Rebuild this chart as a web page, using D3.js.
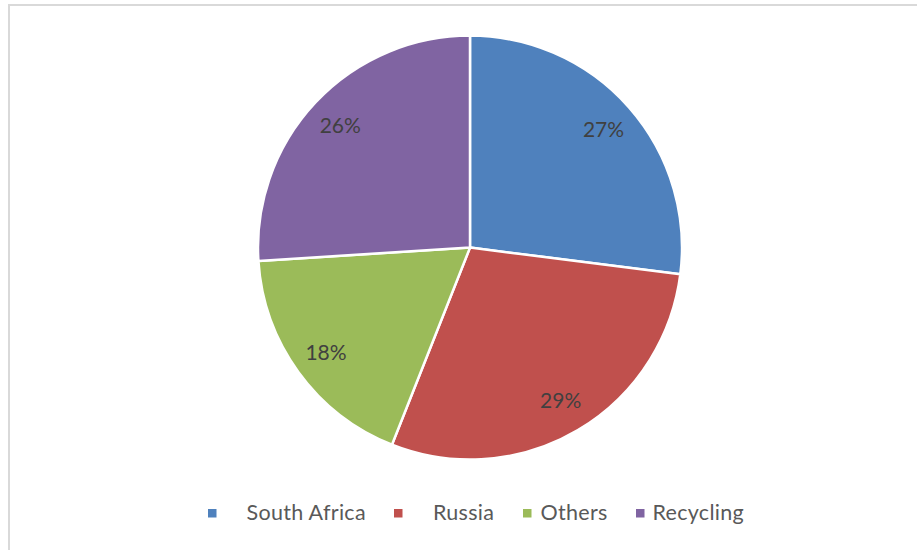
<!DOCTYPE html>
<html><head><meta charset="utf-8">
<script src="https://cdn.jsdelivr.net/npm/d3@7"></script>
<style>html,body{margin:0;padding:0;background:#fff;}svg{display:block;}</style>
</head><body>
<svg id="chart" width="918" height="550"></svg>
<script>
const categories = ["South Africa", "Russia", "Others", "Recycling"];
const values = [27, 29, 18, 26];
const labels = ["27%", "29%", "18%", "26%"];
const colors = ["#4f81bd", "#c0504d", "#9bbb59", "#8064a2"];

const svg = d3.select("#chart");
const W = 918, H = 550;
svg.append("rect").attr("x", 0).attr("y", 0).attr("width", W).attr("height", H).attr("fill", "#fff");
// frame (top + left visible)
svg.append("path").attr("d", `M9,${H} L9,5 L917,5`).attr("fill", "none").attr("stroke", "#d9d9d9").attr("stroke-width", 2);

const cx = 470, cy = 247.6, R = 212;
const pie = d3.pie().value(d => d).sort(null);
const arcs = pie(values);
const arc = d3.arc().innerRadius(0).outerRadius(R);
const labelArc = d3.arc().innerRadius(178).outerRadius(178);

const g = svg.append("g").attr("transform", `translate(${cx},${cy})`);
g.selectAll("path.slice").data(arcs).enter().append("path")
  .attr("class", "slice")
  .attr("d", arc)
  .attr("fill", (d, i) => colors[i])
  .attr("stroke", "#fff").attr("stroke-width", 2.5).attr("stroke-linejoin", "round");

g.selectAll("text.lbl").data(arcs).enter().append("text")
  .attr("class", "lbl")
  .attr("transform", d => `translate(${labelArc.centroid(d)})`)
  .attr("text-anchor", "middle").attr("dy", "0.36em")
  .attr("font-family", "Lato, 'Open Sans', sans-serif").attr("font-size", 21)
  .attr("fill", "#404040")
  .text((d, i) => labels[i]);

// legend
const legendMarkerX = [208, 394, 523, 636];
const legendTextX = [246.5, 433, 540.5, 652.5];
const legendY = 513;
const lg = svg.append("g");
categories.forEach((c, i) => {
  lg.append("rect").attr("x", legendMarkerX[i]).attr("y", legendY - 4).attr("width", 8.5).attr("height", 8.5).attr("fill", colors[i]);
  lg.append("text").attr("x", legendTextX[i]).attr("y", legendY + 6.5)
    .attr("font-family", "Lato, 'Open Sans', sans-serif").attr("font-size", 21.5)
    .attr("letter-spacing", 0.3)
    .attr("fill", "#595959").text(c);
});
</script>
</body></html>
